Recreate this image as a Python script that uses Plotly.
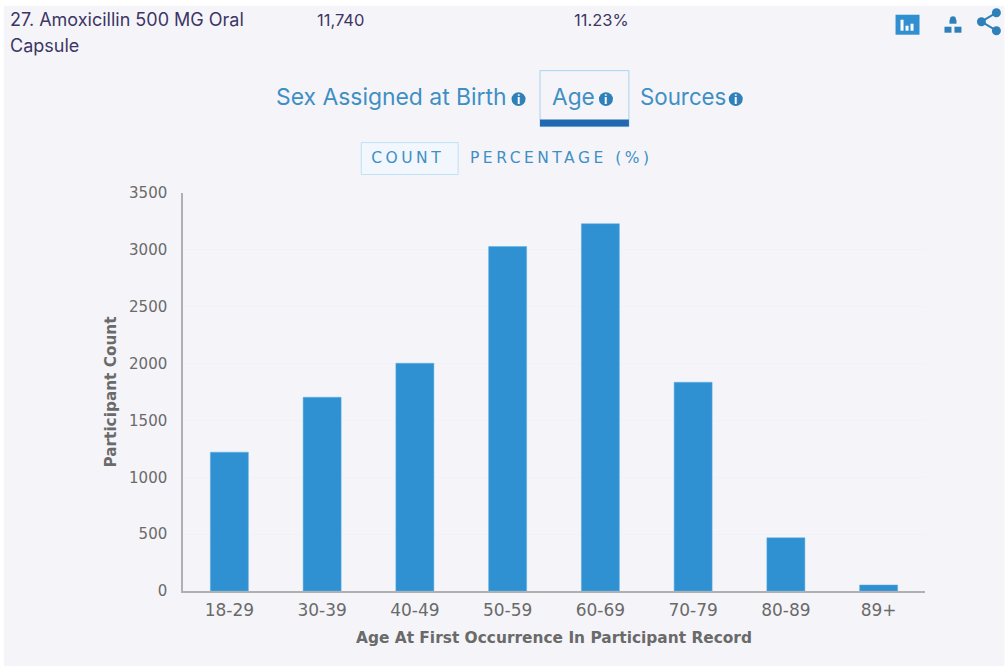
import plotly.graph_objects as go

categories = ["18-29", "30-39", "40-49", "50-59", "60-69", "70-79", "80-89", "89+"]
participant_counts = [1221, 1704, 2003, 3030, 3230, 1836, 468, 53]
y_ticks = [0, 500, 1000, 1500, 2000, 2500, 3000, 3500]

W, H = 1005, 666
L, R, T, B = 182.5, 925.5, 192.5, 591
BG = "#f5f5f9"
BLUE = "#2f91d2"
TXT = "#6a6a6a"
LINK = "#3f8fc4"
DARK = "#3d3566"
ICON = "#2f80b8"
UI = "Inter, sans-serif"
CAPS = "DejaVu Sans, sans-serif"

def px(x):
    return (x - L) / (R - L)

def py(y):
    return (B - y) / (B - T)

def note(x, y, text, size, color, anchor="left", family=UI, **kw):
    return dict(xref="paper", yref="paper", x=px(x), y=py(y), text=text, showarrow=False,
                xanchor=anchor, yanchor="middle", align=anchor,
                font=dict(family=family, size=size, color=color), **kw)

def rect(x0, y0, x1, y1, fill="rgba(0,0,0,0)", line=None, width=1):
    return dict(type="rect", xref="paper", yref="paper", x0=px(x0), x1=px(x1), y0=py(y0), y1=py(y1),
                fillcolor=fill, line=dict(color=line or "rgba(0,0,0,0)", width=width if line else 0), layer="below")

def circle(cx, cy, r, fill):
    return dict(type="circle", xref="paper", yref="paper", x0=px(cx - r), x1=px(cx + r),
                y0=py(cy - r), y1=py(cy + r), fillcolor=fill, line=dict(width=0), layer="above")

def seg(x0, y0, x1, y1, color, width):
    return dict(type="line", xref="paper", yref="paper", x0=px(x0), x1=px(x1), y0=py(y0), y1=py(y1),
                line=dict(color=color, width=width), layer="above")

def above(s):
    s["layer"] = "above"
    return s

shapes = [
    rect(3, 5, 1005, 666, fill=BG),
    rect(540, 70, 629, 126, line="#a9d3ee", width=1),
    rect(540, 119, 629, 126, fill="#2168b0"),
    rect(361, 142, 458, 174, fill="#f1f7fc", line="#bfe0f5", width=1),
    above(rect(896, 14, 920, 34, fill="#2f8fd0")),
    above(rect(901, 19, 904, 30, fill="white")),
    above(rect(906, 25, 909, 30, fill="white")),
    above(rect(911, 23, 914, 30, fill="white")),
    circle(953.5, 18.5, 3, ICON),
    above(rect(950, 19, 957, 23, fill=ICON)),
    above(rect(945, 26, 952, 32, fill=ICON)),
    above(rect(955, 26, 962, 32, fill=ICON)),
    seg(982, 21, 997, 12, ICON, 2),
    seg(982, 21, 997, 30, ICON, 2),
    circle(982, 21, 4.5, ICON),
    circle(997, 12, 4.5, ICON),
    circle(997, 30, 4.5, ICON),
    circle(518.5, 98.5, 7, ICON),
    circle(606, 98.5, 7, ICON),
    circle(736, 98.5, 7, ICON),
]

annotations = [
    note(7, 19, "27. Amoxicillin 500 MG Oral", 18, DARK),
    note(7, 45, "Capsule", 18, DARK),
    note(315, 19, "11,740", 16.5, DARK),
    note(572, 19, "11.23%", 16.5, DARK),
    note(274, 96, "Sex Assigned at Birth", 22.9, LINK),
    note(550, 96, "Age", 22.7, LINK),
    note(638, 96, "Sources", 22.3, LINK),
    note(518.5, 98.5, "<b>i</b>", 12, "white", anchor="center"),
    note(606, 98.5, "<b>i</b>", 12, "white", anchor="center"),
    note(736, 98.5, "<b>i</b>", 12, "white", anchor="center"),
    note(408, 157, "COUNT", 15.5, LINK, anchor="center", family=CAPS),
    note(468, 157, "PERCENTAGE (%)", 15.5, LINK, family=CAPS),
]

fig = go.Figure(go.Bar(x=categories, y=participant_counts,
                       marker=dict(color=BLUE, line=dict(width=0.5, color="#5cb0e6")),
                       width=0.41))

fig.update_layout(
    width=W, height=H, autosize=False,
    margin=dict(l=L, r=W - R, t=T, b=H - B, pad=0),
    paper_bgcolor="white", plot_bgcolor="rgba(0,0,0,0)",
    showlegend=False,
    shapes=shapes, annotations=annotations,
    font=dict(family="DejaVu Sans", color=TXT),
    xaxis=dict(
        type="category", range=[-0.5, 7.5], showgrid=False, zeroline=False,
        showline=True, linecolor="#b0b0b0", linewidth=1.5,
        ticks="", tickfont=dict(size=17, color=TXT), ticklabelstandoff=3,
        title=dict(text="<b>Age At First Occurrence In Participant Record</b>",
                   font=dict(size=15.4, color=TXT), standoff=13),
    ),
    yaxis=dict(
        range=[0, 3500], tickvals=y_ticks, gridcolor="#eff2f8", gridwidth=1, zeroline=False,
        showline=True, linecolor="#b0b0b0", linewidth=1.5,
        ticks="", tickfont=dict(size=15, color=TXT), ticklabelstandoff=11,
        title=dict(text="<b>Participant Count</b>", font=dict(size=15.3, color=TXT), standoff=9),
    ),
)

post = """
document.body.style.margin = '0';
document.querySelectorAll('.annotation-text').forEach(function (t) {
  if (t.textContent === 'COUNT' || t.textContent.indexOf('PERCENTAGE') === 0) {
    t.style.letterSpacing = '3.5px';
  }
});
"""
fig.write_html("out.html", config=dict(displayModeBar=False), post_script=post)
